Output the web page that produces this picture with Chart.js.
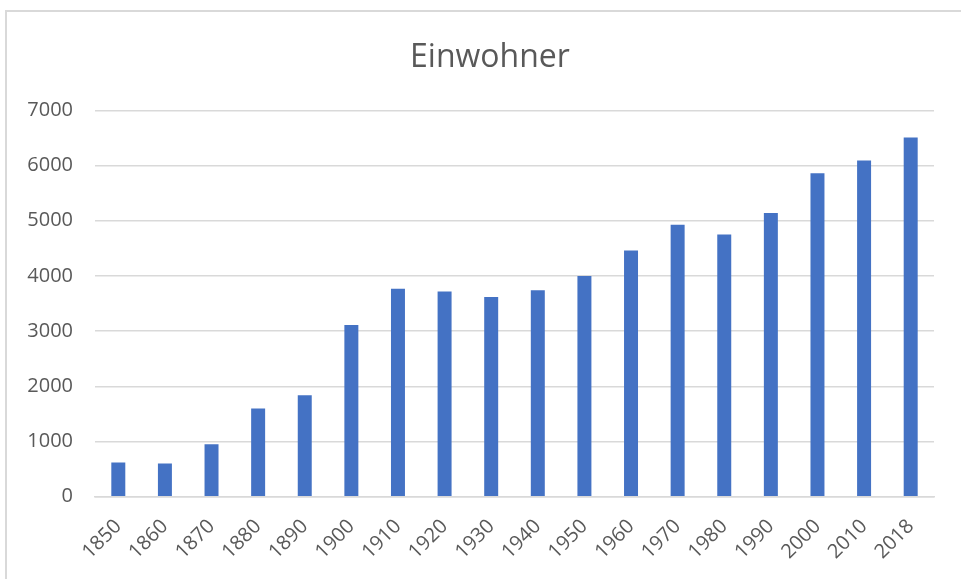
<!DOCTYPE html>
<html>
<head>
<meta charset="utf-8">
<script src="https://cdn.jsdelivr.net/npm/chart.js@4"></script>
<style>
  body { margin: 0; background: #fff; }
  #wrap { position: relative; width: 961px; height: 579px; overflow: hidden; }
  #frame { position: absolute; left: 5px; top: 10px; width: 1000px; height: 1000px; border: 2px solid #d9d9d9; }
  #holder { position: absolute; left: 0; top: 0; width: 961px; height: 579px; }
</style>
</head>
<body>
<div id="wrap">
  <div id="frame"></div>
  <div id="holder"><canvas id="myCanvas"></canvas></div>
</div>
<script>
var years = ['1850','1860','1870','1880','1890','1900','1910','1920','1930','1940','1950','1960','1970','1980','1990','2000','2010','2018'];
var einwohner = [620, 600, 950, 1600, 1840, 3110, 3770, 3720, 3620, 3740, 4000, 4460, 4930, 4750, 5140, 5860, 6090, 6510];
var yTicks = [0, 1000, 2000, 3000, 4000, 5000, 6000, 7000];

var chartdata = {
	labels: years,
	datasets: [
		{
			label: 'Einwohner',
			backgroundColor: '#4472c4',
			borderWidth: 0,
			barPercentage: 0.3,
			categoryPercentage: 1.0,
			data: einwohner
		}
	]
};

// the title in the original sits a bit right of the canvas centre
var shiftTitle = {
	id: 'shiftTitle',
	afterLayout: function(chart) {
		if (chart.titleBlock) {
			chart.titleBlock.left += 43;
		}
	}
};

var ctx = document.getElementById('myCanvas');

var barGraph = new Chart(ctx, {
	type: 'bar',
	data: chartdata,
	plugins: [shiftTitle],
	options: {
		responsive: true,
		maintainAspectRatio: false,
		animation: false,
		layout: { padding: { left: 3, right: 27, top: 0, bottom: 5 } },
		plugins: {
			legend: { display: false },
			tooltip: { enabled: false },
			title: {
				display: true,
				text: 'Einwohner',
				color: '#595959',
				font: { family: 'Open Sans', size: 32, weight: 'normal' },
				padding: { top: 39, bottom: 33 }
			}
		},
		scales: {
			x: {
				grid: { display: false },
				border: { display: true, color: '#d9d9d9', width: 1.5 },
				afterFit: function(axis) { axis.paddingLeft = 0; axis.paddingRight = 0; },
				ticks: {
					color: '#595959',
					font: { family: 'Open Sans', size: 20 },
					minRotation: 45,
					maxRotation: 45,
					padding: 10
				}
			},
			y: {
				min: 0,
				max: 7000,
				afterBuildTicks: function(axis) {
					axis.ticks = yTicks.map(function(v){ return { value: v }; });
				},
				afterFit: function(axis) { axis.width = 92; },
				grid: { color: '#d9d9d9', lineWidth: 1.5, drawTicks: false },
				border: { display: false },
				ticks: {
					color: '#595959',
					font: { family: 'Open Sans', size: 20 },
					padding: 22,
					callback: function(v) { return String(v); }
				}
			}
		}
	}
});
</script>
</body>
</html>
